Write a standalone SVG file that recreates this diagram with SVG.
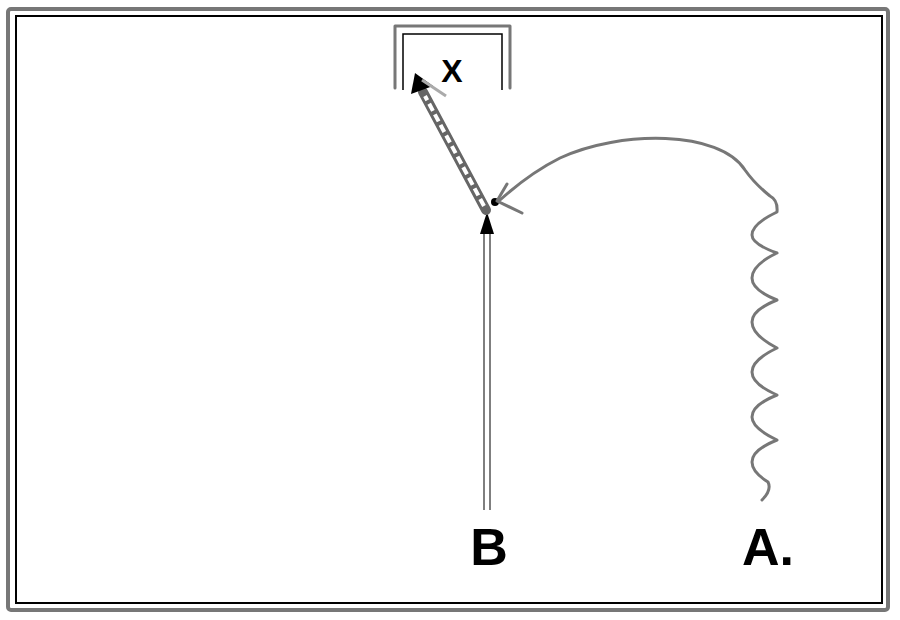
<svg xmlns="http://www.w3.org/2000/svg" width="900" height="620" viewBox="0 0 900 620">
<defs>
<style>
.frame-out{fill:none;stroke:#777;stroke-width:4}
.frame-in{fill:none;stroke:#000;stroke-width:2}
.gray{fill:none;stroke:#777;stroke-width:3;stroke-linecap:round;stroke-linejoin:round}
.thin{fill:none;stroke:#000;stroke-width:1.5}
.lbl{font-family:"Liberation Sans",Arial,sans-serif;font-weight:bold;fill:#000}
</style>
</defs>
<rect width="900" height="620" fill="#fff"/>
<rect class="frame-out" x="8" y="9" width="880" height="601" rx="3"/>
<rect class="frame-in" x="16" y="16" width="866" height="587"/>

<g id="goal">
<path class="gray" d="M395,88 V26 H510 V88"/>
<path class="thin" d="M403,90 V34 H502 V90"/>
<text class="lbl" x="452" y="82" font-size="32" text-anchor="middle">X</text>
</g>

<g id="B">
<text class="lbl" x="489" y="565" font-size="52" text-anchor="middle">B</text>
</g>
<g id="A">
<text class="lbl" x="742" y="565" font-size="52">A.</text>
</g>
<g id="point">
<circle cx="495" cy="202" r="4" fill="#000"/>
</g>

<g id="connectors">
<!-- B upward arrow -->
<line x1="484" y1="510" x2="484" y2="232" stroke="#555" stroke-width="1.5"/>
<line x1="490" y1="510" x2="490" y2="232" stroke="#555" stroke-width="1.5"/>
<path d="M480,234 L487,212 L494,234 z" fill="#000"/>
<!-- shot to X (hollow double shaft) -->
<line x1="486" y1="210" x2="423" y2="92" stroke="#666" stroke-width="10" stroke-linecap="round"/>
<line x1="484" y1="206" x2="425" y2="96" stroke="#fff" stroke-width="4" stroke-dasharray="8 4"/>
<path d="M411,94 L415,73 L433,86 z" fill="#000"/>
<path d="M422,80 L446,96" stroke="#aaa" stroke-width="3" fill="none"/>
<!-- pass from A: wavy then arc -->
<path class="gray" stroke-width="2.5" d="M762,500 Q772,490 768,482 Q752,472 752,462 Q752,450 777,440 Q752,428 752,417 Q752,405 777,395 Q752,384 752,372 Q752,360 777,348 Q752,335 752,322 Q752,310 777,300 Q752,290 752,278 Q752,265 777,253 Q752,244 752,235 Q752,224 777,212 Q778,200 770,196 C760,188 752,180 745,170 C720,130 620,130 560,158 C540,168 520,182 500,200"/>
<path class="gray" stroke-width="2.5" d="M507,184 L497,201 L522,213"/>
</g>
</svg>
